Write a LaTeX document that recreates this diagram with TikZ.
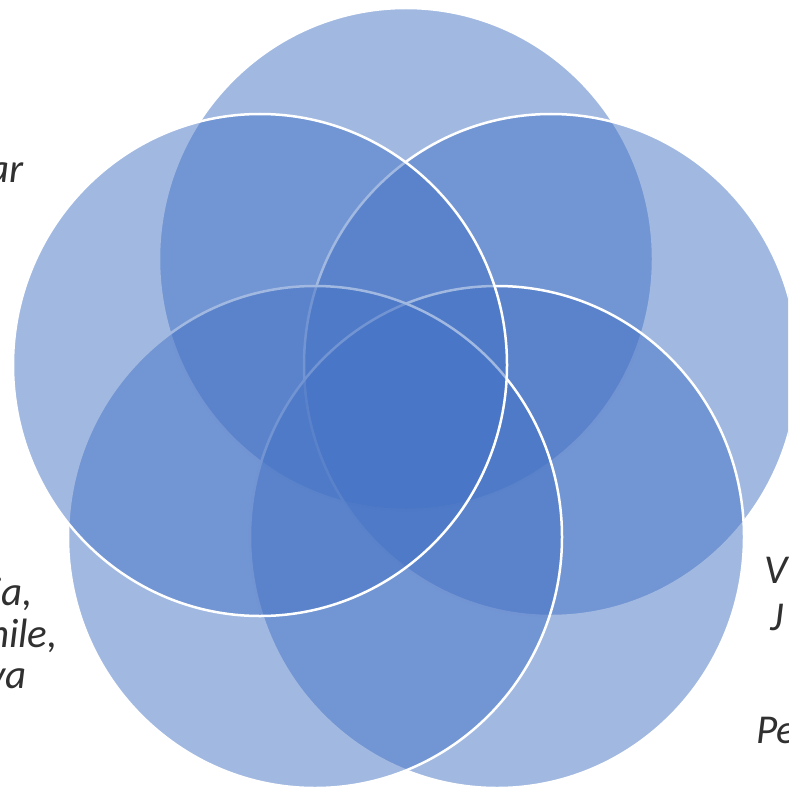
\documentclass[tikz,border=0pt]{standalone}
\usepackage{fontspec}
\setmainfont{Carlito}
\definecolor{vblue}{HTML}{4472C4}
\definecolor{txtgray}{HTML}{303030}
\begin{document}
\begin{tikzpicture}[x=1pt,y=-1pt,
  venn/.style={fill=vblue,fill opacity=0.5,draw=white,draw opacity=1,line width=2.5pt},
  lbl/.style={font=\fontsize{41}{42}\selectfont\itshape,text=txtgray,inner sep=0pt}]
\useasboundingbox (0,0) rectangle (788,789);
\begin{scope}
\clip (0,0) rectangle (788,789);
\path[venn] (406,259) ellipse [x radius=247,y radius=251] coordinate (ctop);
\path[venn] (551,365) ellipse [x radius=247,y radius=251] coordinate (cur);
\path[venn] (497,537) ellipse [x radius=247,y radius=251] coordinate (clr);
\path[venn] (315,537) ellipse [x radius=247,y radius=251] coordinate (cll);
\path[venn] (260,365) ellipse [x radius=247,y radius=251] coordinate (cul);
\node[lbl,anchor=base east] (t1) at (24,182) {ar};
\node[lbl,anchor=base east] (t2) at (33,605) {ia,};
\node[lbl,anchor=base east] (t3) at (58,647) {nile,};
\node[lbl,anchor=base east] (t4) at (27,688) {va};
\node[lbl,anchor=base west] (t5) at (764,583) {V};
\node[lbl,anchor=base west] (t6) at (770,630) {J};
\node[lbl,anchor=base west] (t7) at (756,743) {Pe};
\end{scope}
\end{tikzpicture}
\end{document}
